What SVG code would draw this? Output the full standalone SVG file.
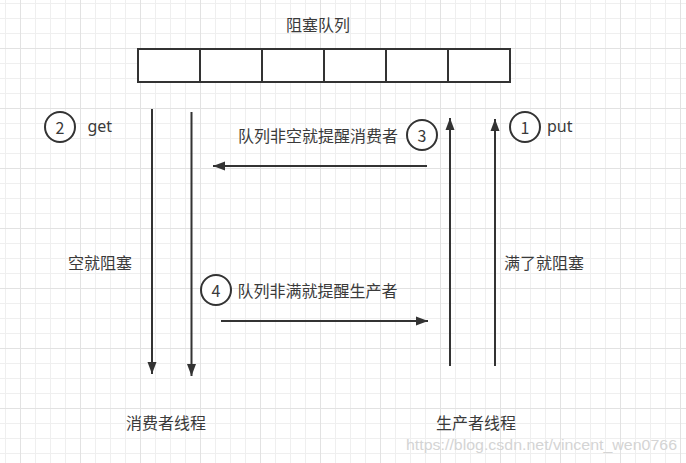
<svg xmlns="http://www.w3.org/2000/svg" width="686" height="463" viewBox="0 0 686 463">
<style>
.t{font-family:"Noto Sans CJK SC","Noto Sans",sans-serif;font-size:16px;fill:#3a3a3a;text-anchor:middle;dominant-baseline:central}
.en{font-family:"Noto Sans","Noto Sans CJK SC",sans-serif;font-size:16px;fill:#3a3a3a;dominant-baseline:central}
.ln{stroke:#333;stroke-width:2;fill:none}
.c{fill:#fff;stroke:#333;stroke-width:2}
.cell{fill:#fff;stroke:#333;stroke-width:2}
</style>
<defs>
<pattern id="grid" patternUnits="userSpaceOnUse" x="20" y="48" width="60" height="60">
<path d="M15.5 0V60M30.5 0V60M45.5 0V60M0 15.5H60M0 30.5H60M0 45.5H60" stroke="#efefef" stroke-width="1" fill="none"/>
<path d="M0.5 0V60M0 0.5H60" stroke="#e2e2e2" stroke-width="1" fill="none"/>
</pattern>
<marker id="ah" markerUnits="userSpaceOnUse" markerWidth="14" markerHeight="12" viewBox="-13 -6 14 12" refX="0" refY="0" orient="auto">
<path d="M0,0 L-12,-4.5 L-12,4.5 Z" fill="#333"/>
</marker>
</defs>
<rect width="686" height="463" fill="#fff"/>
<rect width="686" height="463" fill="url(#grid)"/>

<g id="queue">
<text class="t" x="318" y="24">阻塞队列</text>
<rect class="cell" x="138" y="49" width="62" height="33"/>
<rect class="cell" x="200" y="49" width="62" height="33"/>
<rect class="cell" x="262" y="49" width="62" height="33"/>
<rect class="cell" x="324" y="49" width="62" height="33"/>
<rect class="cell" x="386" y="49" width="62" height="33"/>
<rect class="cell" x="448" y="49" width="62" height="33"/>
</g>

<g id="connectors">
<line class="ln" x1="152" y1="109" x2="152" y2="374" marker-end="url(#ah)"/>
<line class="ln" x1="191.5" y1="112" x2="191.5" y2="376" marker-end="url(#ah)"/>
<line class="ln" x1="450" y1="366" x2="450" y2="118" marker-end="url(#ah)"/>
<line class="ln" x1="495" y1="366" x2="495" y2="119" marker-end="url(#ah)"/>
<line class="ln" x1="427" y1="166" x2="213" y2="166" marker-end="url(#ah)"/>
<line class="ln" x1="221" y1="321" x2="428" y2="321" marker-end="url(#ah)"/>
</g>

<g id="step1">
<circle class="c" cx="525" cy="127" r="15"/>
<text class="t" x="525" y="127">1</text>
<text class="en" x="547" y="126">put</text>
</g>
<g id="step2">
<circle class="c" cx="60" cy="127" r="15"/>
<text class="t" x="60" y="127">2</text>
<text class="en" x="87.5" y="126">get</text>
</g>
<g id="step3">
<circle class="c" cx="422" cy="135" r="15"/>
<text class="t" x="422" y="135">3</text>
<text class="t" x="318" y="135">队列非空就提醒消费者</text>
</g>
<g id="step4">
<circle class="c" cx="216" cy="290" r="15"/>
<text class="t" x="216" y="290">4</text>
<text class="t" x="317.5" y="290">队列非满就提醒生产者</text>
</g>

<g id="labels">
<text class="t" x="100" y="262">空就阻塞</text>
<text class="t" x="544" y="262">满了就阻塞</text>
<text class="t" x="166" y="422">消费者线程</text>
<text class="t" x="476" y="422">生产者线程</text>
</g>

<text x="406" y="445" font-family="Liberation Sans, sans-serif" font-size="14" fill="#d4d4d4" dominant-baseline="central" textLength="271" lengthAdjust="spacingAndGlyphs">https://blog.csdn.net/vincent_wen0766</text>
</svg>
